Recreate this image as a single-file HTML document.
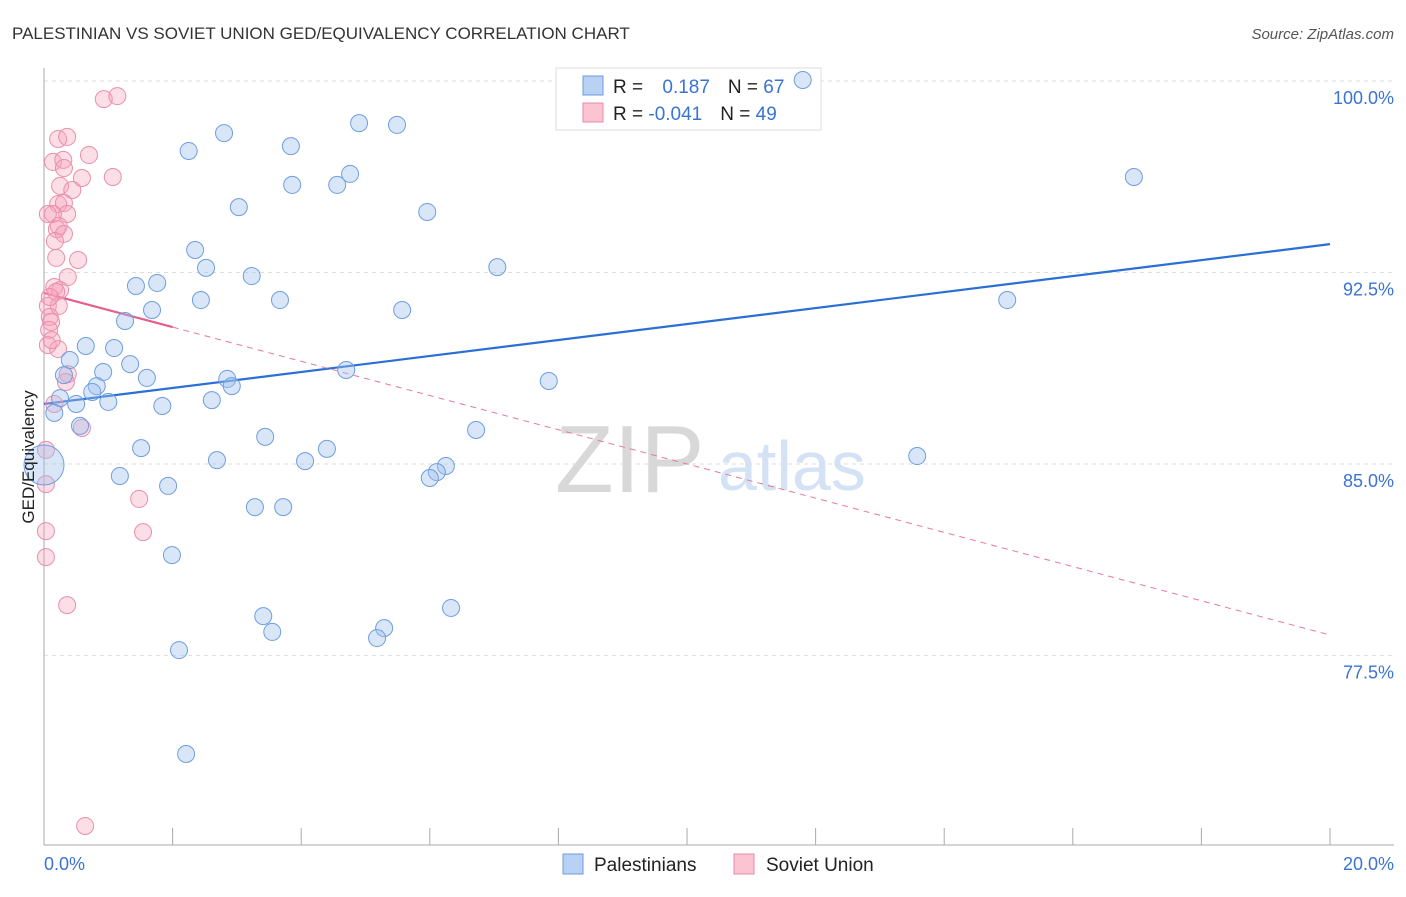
<!DOCTYPE html>
<html><head><meta charset="utf-8"><style>
body{margin:0;background:#fff;font-family:"Liberation Sans",sans-serif}
svg text{font-family:"Liberation Sans",sans-serif}
</style></head><body>
<svg id="chart" width="1406" height="892">
<text x="12" y="39" font-size="17" fill="#333">PALESTINIAN VS SOVIET UNION GED/EQUIVALENCY CORRELATION CHART</text>
<text x="1394" y="39" font-size="15" fill="#555" font-style="italic" text-anchor="end">Source: ZipAtlas.com</text>
<text x="555" y="492" font-size="96" fill="#d8d8d8" font-family="Liberation Serif">ZIP</text>
<text x="718" y="490" font-size="70" fill="#d4e2f5">atlas</text>
<g id="grid"></g><g id="axes"></g><g id="trends"></g>
<g>
<rect x="556" y="68" width="265" height="62" fill="#fff" stroke="#ddd"/>
<rect x="583" y="76" width="20" height="19" fill="#b9d1f3" stroke="#6a9be0"/>
<rect x="583" y="103" width="20" height="19" fill="#fac4d3" stroke="#e889a6"/>
<text x="613" y="93" font-size="19" fill="#222">R = <tspan fill="#3a73d4" dx="14">0.187</tspan><tspan fill="#222" dx="18">N = </tspan><tspan fill="#3a73d4">67</tspan></text>
<text x="613" y="120" font-size="19" fill="#222">R = <tspan fill="#3a73d4">-0.041</tspan><tspan fill="#222" dx="18">N = </tspan><tspan fill="#3a73d4">49</tspan></text>
</g>
<g id="pts"></g>
<text transform="translate(34,457) rotate(-90)" font-size="17" fill="#222" text-anchor="middle">GED/Equivalency</text>
<text x="44" y="870" font-size="18" fill="#3a73d4">0.0%</text>
<text x="1394" y="870" font-size="18" fill="#3a73d4" text-anchor="end">20.0%</text>
<g><rect x="563" y="854" width="20" height="20" fill="#b9d1f3" stroke="#6a9be0"/><text x="594" y="871" font-size="19" fill="#222">Palestinians</text></g>
<g><rect x="734" y="854" width="20" height="20" fill="#fac4d3" stroke="#e889a6"/><text x="766" y="871" font-size="19" fill="#222">Soviet Union</text></g>
</svg>
<script>
const yTicks=[100,92.5,85,77.5];
const yTickLabels=["100.0%","92.5%","85.0%","77.5%"];
const xTicks=[0,2,4,6,8,10,12,14,16,18,20];
const blueX=[11.80,16.95,14.98,13.58,2.80,2.25,3.84,4.90,5.49,4.76,4.56,3.86,3.03,5.96,2.35,2.52,3.23,7.05,1.43,1.76,2.44,3.67,5.57,1.68,1.26,0.65,1.09,0.40,1.34,4.70,0.31,0.92,1.60,2.85,2.92,7.85,0.82,0.75,0.25,0.50,1.00,1.84,2.61,0.16,0.56,6.72,3.44,1.51,4.40,2.69,4.06,6.25,6.11,6.00,1.18,1.93,3.28,3.72,1.99,3.41,3.55,5.29,5.18,6.33,2.10,2.21,0.00];
const blueY=[100.04,96.24,91.42,85.31,97.96,97.26,97.45,98.35,98.28,96.36,95.93,95.93,95.06,94.87,93.38,92.68,92.36,92.71,91.97,92.09,91.42,91.42,91.03,91.03,90.60,89.62,89.54,89.07,88.91,88.68,88.48,88.60,88.37,88.33,88.05,88.25,88.05,87.82,87.58,87.35,87.43,87.27,87.50,87.00,86.49,86.33,86.06,85.62,85.59,85.15,85.11,84.92,84.68,84.45,84.53,84.14,83.31,83.31,81.43,79.04,78.42,78.57,78.18,79.36,77.71,73.64,84.96];
const pinkX=[0.93,1.14,0.22,0.36,0.14,0.70,0.30,0.31,0.59,1.07,0.25,0.44,0.22,0.31,0.36,0.14,0.23,0.20,0.31,0.17,0.53,0.19,0.37,0.16,0.25,0.19,0.06,0.23,0.09,0.11,0.08,0.06,0.22,0.37,0.34,0.16,0.59,0.03,0.03,1.48,1.54,0.03,0.03,0.36,0.64,0.06,0.09,0.12];
const pinkY=[99.29,99.41,97.73,97.81,96.83,97.10,96.91,96.59,96.20,96.24,95.89,95.73,95.18,95.22,94.79,94.79,94.32,94.20,94.01,93.73,92.99,93.07,92.32,91.93,91.81,91.74,91.19,91.19,90.76,90.56,90.25,89.66,89.50,88.52,88.21,87.35,86.41,85.55,84.21,83.63,82.33,82.37,81.35,79.47,70.82,94.79,91.54,89.85];
const blueTrend=[87.35,93.61];
const pinkTrend=[91.70,78.30];
const pinkSolidEnd=2.0;
const NS="http://www.w3.org/2000/svg";
const sx=v=>44+v/20*1286;
const sy=v=>81+(100-v)*25.53;
function mk(tag,attrs,parent){const e=document.createElementNS(NS,tag);for(const k in attrs)e.setAttribute(k,attrs[k]);document.getElementById(parent).appendChild(e);return e;}
yTicks.forEach((t,i)=>{
 const l=mk('line',{x1:44,x2:1394,y1:sy(t),y2:sy(t),stroke:'#ddd','stroke-dasharray':'4,4'},'grid');
 
 
 const tx=mk('text',{x:1394,y:sy(t)+23,'font-size':18,fill:'#3a73d4','text-anchor':'end'},'grid');
 tx.textContent=yTickLabels[i];
 
 
});
const ax=mk('line',{x1:44,x2:44,y1:68,y2:845,stroke:'#aaa'},'axes');


const bx=mk('line',{x1:44,x2:1394,y1:845,y2:845,stroke:'#aaa'},'axes');


xTicks.forEach(t=>{const l=mk('line',{x1:sx(t),x2:sx(t),y1:828,y2:845,stroke:'#aaa'},'axes');
 
 });
const bt=mk('line',{x1:sx(0),y1:sy(blueTrend[0]),x2:sx(20),y2:sy(blueTrend[1]),stroke:'#2a6fd6','stroke-width':2.2},'trends');


const pAt=x=>pinkTrend[0]+(pinkTrend[1]-pinkTrend[0])*x/20;
const pd=mk('line',{x1:sx(pinkSolidEnd),y1:sy(pAt(pinkSolidEnd)),x2:sx(20),y2:sy(pinkTrend[1]),stroke:'#e8799c','stroke-width':1,'stroke-dasharray':'6,5'},'trends');


const ps=mk('line',{x1:sx(0),y1:sy(pinkTrend[0]),x2:sx(pinkSolidEnd),y2:sy(pAt(pinkSolidEnd)),stroke:'#e45f8a','stroke-width':2.2},'trends');


pinkX.forEach((x,i)=>{const c=mk('circle',{cx:sx(x),cy:sy(pinkY[i]),r:8.5,fill:'rgba(245,160,185,0.35)',stroke:'#e98fab','stroke-width':1},'pts');
 
 });
blueX.forEach((x,i)=>{const big=i===blueX.length-1;const c=mk('circle',{cx:sx(x),cy:sy(blueY[i]),r:big?20:8.5,fill:'rgba(160,192,238,0.4)',stroke:'#6e9ee0','stroke-width':1},'pts');
 
 });
</script>
</body></html>
